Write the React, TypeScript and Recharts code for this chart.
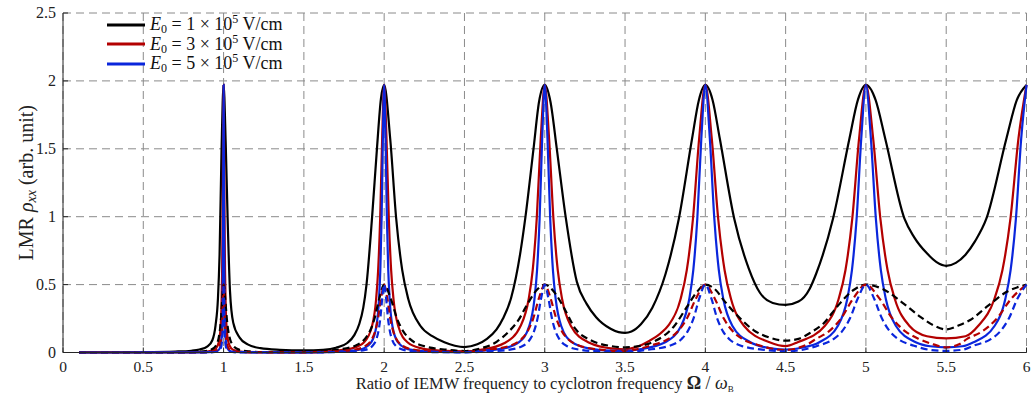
import { CartesianGrid, Label, Legend, Line, LineChart, XAxis, YAxis } from 'recharts';

const xTicks = [0, 0.5, 1, 1.5, 2, 2.5, 3, 3.5, 4, 4.5, 5, 5.5, 6];
const yTicks = [0, 0.5, 1, 1.5, 2, 2.5];
const fieldValues = ['1', '3', '5'];

// [ratio, rho], solid curves
const blackSolid = [
    [0.1, 0.001], [0.5, 0.003], [0.7, 0.007], [0.8, 0.013], [0.85, 0.022], [0.9, 0.045], [0.93, 0.09], [0.95, 0.2],
    [0.965, 0.4], [0.975, 0.72], [0.9875, 1.5], [1, 1.97], [1.013, 1.55], [1.026, 0.95], [1.04, 0.45], [1.06, 0.22],
    [1.1, 0.11], [1.15, 0.06], [1.23, 0.032], [1.35, 0.02], [1.5, 0.015], [1.62, 0.02], [1.7, 0.035], [1.77, 0.07],
    [1.815, 0.13], [1.845, 0.21], [1.87, 0.33], [1.89, 0.5], [1.925, 1.0], [1.955, 1.5], [1.98, 1.87], [2, 1.97],
    [2.0375, 1.576], [2.075, 0.985], [2.1125, 0.606], [2.15, 0.394], [2.225, 0.197], [2.3, 0.12], [2.375, 0.075],
    [2.44, 0.05], [2.5, 0.04], [2.58, 0.06], [2.64, 0.1], [2.7, 0.17], [2.74, 0.25], [2.79, 0.4], [2.82, 0.55],
    [2.85, 0.75], [2.88, 1.0], [2.93, 1.5], [2.965, 1.85], [3, 1.97], [3.035, 1.85], [3.075, 1.5], [3.13, 1.0],
    [3.2, 0.52], [3.26, 0.36], [3.32, 0.26], [3.41, 0.175], [3.46, 0.15], [3.5, 0.145], [3.54, 0.155], [3.6, 0.21],
    [3.67, 0.33], [3.7525, 0.58], [3.835, 0.985], [3.9175, 1.576], [3.96, 1.86], [4, 1.97], [4.045, 1.86],
    [4.09, 1.576], [4.18, 0.985], [4.27, 0.62], [4.34, 0.44], [4.42, 0.365], [4.5, 0.35], [4.58, 0.375],
    [4.65, 0.47], [4.69, 0.58], [4.795, 0.985], [4.8975, 1.576], [4.95, 1.86], [5, 1.97], [5.06, 1.86],
    [5.12, 1.576], [5.24, 0.985], [5.3, 0.85], [5.38, 0.73], [5.44, 0.665], [5.5, 0.638], [5.56, 0.66],
    [5.62, 0.72], [5.68, 0.82], [5.75, 0.985], [5.875, 1.576], [5.94, 1.86], [6, 1.97],
];

const redSolid = [
    [0.1, 0.0002], [0.5, 0.0005], [0.8, 0.0015], [0.88, 0.0049], [0.928, 0.0136], [0.952, 0.0303], [0.97, 0.0758],
    [0.982, 0.197], [0.988, 0.394], [0.991, 0.606], [0.994, 0.985], [0.997, 1.576], [1, 1.97], [1.003, 1.576],
    [1.006, 0.985], [1.009, 0.606], [1.012, 0.394], [1.018, 0.197], [1.03, 0.0758], [1.048, 0.0303], [1.072, 0.0136],
    [1.12, 0.0049], [1.3, 0.0025], [1.5, 0.002], [1.7, 0.0136], [1.8, 0.0303], [1.875, 0.0758], [1.925, 0.197],
    [1.95, 0.394], [1.9625, 0.606], [1.975, 0.985], [1.9875, 1.576], [2, 1.97], [2.0145, 1.576], [2.029, 0.985],
    [2.0435, 0.606], [2.058, 0.394], [2.087, 0.197], [2.145, 0.0758], [2.232, 0.0303], [2.348, 0.0136], [2.5, 0.008],
    [2.6, 0.02], [2.75, 0.07], [2.85, 0.197], [2.9, 0.394], [2.925, 0.606], [2.95, 0.985], [2.975, 1.576], [3, 1.97],
    [3.027, 1.576], [3.054, 0.985], [3.081, 0.606], [3.108, 0.394], [3.162, 0.197], [3.27, 0.0758], [3.43, 0.028],
    [3.5, 0.024], [3.57, 0.04], [3.65, 0.085], [3.72, 0.14], [3.769, 0.197], [3.846, 0.394], [3.8845, 0.606],
    [3.923, 0.985], [3.9615, 1.576], [4, 1.97], [4.04, 1.576], [4.08, 0.985], [4.12, 0.606], [4.16, 0.394],
    [4.24, 0.197], [4.4, 0.0758], [4.5, 0.047], [4.575, 0.0758], [4.745, 0.197], [4.83, 0.394], [4.8725, 0.606],
    [4.915, 0.985], [4.9575, 1.576], [5, 1.97], [5.045, 1.576], [5.09, 0.985], [5.135, 0.606], [5.18, 0.394],
    [5.27, 0.197], [5.38, 0.12], [5.5, 0.104], [5.62, 0.12], [5.7, 0.197], [5.8, 0.394], [5.85, 0.606], [5.9, 0.985],
    [5.95, 1.576], [6, 1.97],
];

const blueSolid = [
    [0.1, 0.0001], [0.5, 0.0003], [0.8, 0.0008], [0.94, 0.0049], [0.964, 0.0136], [0.976, 0.0303], [0.985, 0.0758],
    [0.991, 0.197], [0.994, 0.394], [0.9955, 0.606], [0.997, 0.985], [0.9985, 1.576], [1, 1.97], [1.0015, 1.576],
    [1.003, 0.985], [1.0045, 0.606], [1.006, 0.394], [1.009, 0.197], [1.015, 0.0758], [1.024, 0.0303],
    [1.036, 0.0136], [1.06, 0.0049], [1.2, 0.0015], [1.5, 0.001], [1.68, 0.0049], [1.808, 0.0136], [1.872, 0.0303],
    [1.92, 0.0758], [1.952, 0.197], [1.968, 0.394], [1.976, 0.606], [1.984, 0.985], [1.992, 1.576], [2, 1.97],
    [2.0085, 1.576], [2.017, 0.985], [2.0255, 0.606], [2.034, 0.394], [2.051, 0.197], [2.085, 0.0758],
    [2.136, 0.0303], [2.204, 0.0136], [2.34, 0.0049], [2.5, 0.003], [2.616, 0.0136], [2.744, 0.0303], [2.84, 0.0758],
    [2.904, 0.197], [2.936, 0.394], [2.952, 0.606], [2.968, 0.985], [2.984, 1.576], [3, 1.97], [3.017, 1.576],
    [3.034, 0.985], [3.051, 0.606], [3.068, 0.394], [3.102, 0.197], [3.17, 0.0758], [3.272, 0.0303], [3.408, 0.0136],
    [3.5, 0.012], [3.6, 0.026], [3.75, 0.0758], [3.85, 0.197], [3.9, 0.394], [3.925, 0.606], [3.95, 0.985],
    [3.975, 1.576], [4, 1.97], [4.028, 1.576], [4.056, 0.985], [4.084, 0.606], [4.112, 0.394], [4.168, 0.197],
    [4.28, 0.0758], [4.42, 0.028], [4.5, 0.021], [4.6, 0.035], [4.71, 0.0758], [4.826, 0.197], [4.884, 0.394],
    [4.913, 0.606], [4.942, 0.985], [4.971, 1.576], [5, 1.97], [5.031, 1.576], [5.062, 0.985], [5.093, 0.606],
    [5.124, 0.394], [5.186, 0.197], [5.31, 0.0758], [5.4, 0.046], [5.5, 0.038], [5.6, 0.046], [5.67, 0.0758],
    [5.802, 0.197], [5.868, 0.394], [5.901, 0.606], [5.934, 0.985], [5.967, 1.576], [6, 1.97],
];

// dashed curves
const blackDashed = [
    [0.1, 0.0001], [0.4, 0.0004], [0.68, 0.00125], [0.808, 0.0035], [0.872, 0.0077], [0.92, 0.0192], [0.952, 0.05],
    [0.968, 0.1], [0.976, 0.154], [0.984, 0.25], [0.992, 0.4], [1, 0.5], [1.01, 0.4], [1.02, 0.25], [1.03, 0.154],
    [1.04, 0.1], [1.06, 0.05], [1.1, 0.0192], [1.16, 0.0077], [1.24, 0.0035], [1.5, 0.002], [1.6, 0.008],
    [1.7, 0.0192], [1.82, 0.05], [1.88, 0.1], [1.91, 0.154], [1.94, 0.25], [1.97, 0.4], [2, 0.5], [2.04, 0.4],
    [2.08, 0.25], [2.12, 0.154], [2.16, 0.1], [2.24, 0.05], [2.4, 0.0192], [2.5, 0.011], [2.6, 0.03], [2.702, 0.08],
    [2.775, 0.153], [2.837, 0.24], [2.889, 0.35], [2.95, 0.46], [3, 0.5], [3.065, 0.435], [3.128, 0.31],
    [3.19, 0.175], [3.284, 0.092], [3.4, 0.05], [3.5, 0.038], [3.6, 0.05], [3.679, 0.08], [3.803, 0.19],
    [3.886, 0.337], [3.95, 0.45], [4, 0.5], [4.065, 0.46], [4.114, 0.386], [4.218, 0.25], [4.3, 0.165], [4.4, 0.11],
    [4.5, 0.087], [4.58, 0.1], [4.66, 0.15], [4.736, 0.214], [4.82, 0.337], [4.923, 0.46], [5, 0.5], [5.1, 0.47],
    [5.235, 0.36], [5.339, 0.263], [5.42, 0.2], [5.5, 0.17], [5.58, 0.2], [5.649, 0.239], [5.753, 0.337],
    [5.877, 0.447], [6, 0.5],
];

const redDashed = [
    [0.1, 0.0001], [0.5, 0.0002], [0.84, 0.00125], [0.904, 0.0035], [0.936, 0.0077], [0.96, 0.0192], [0.976, 0.05],
    [0.984, 0.1], [0.988, 0.154], [0.992, 0.25], [0.996, 0.4], [1, 0.5], [1.004, 0.4], [1.008, 0.25], [1.012, 0.154],
    [1.016, 0.1], [1.024, 0.05], [1.04, 0.0192], [1.064, 0.0077], [1.096, 0.0035], [1.16, 0.00125], [1.5, 0.001],
    [1.696, 0.0077], [1.81, 0.0192], [1.886, 0.05], [1.924, 0.1], [1.943, 0.154], [1.962, 0.25], [1.981, 0.4],
    [2, 0.5], [2.019, 0.4], [2.038, 0.25], [2.057, 0.154], [2.076, 0.1], [2.114, 0.05], [2.19, 0.0192],
    [2.304, 0.0077], [2.5, 0.004], [2.64, 0.0192], [2.784, 0.05], [2.856, 0.1], [2.892, 0.154], [2.928, 0.25],
    [2.964, 0.4], [3, 0.5], [3.036, 0.4], [3.072, 0.25], [3.108, 0.154], [3.144, 0.1], [3.216, 0.05], [3.36, 0.0192],
    [3.5, 0.01], [3.58, 0.025], [3.655, 0.05], [3.77, 0.1], [3.8275, 0.154], [3.885, 0.25], [3.9425, 0.4], [4, 0.5],
    [4.0575, 0.4], [4.115, 0.25], [4.1725, 0.154], [4.23, 0.1], [4.345, 0.05], [4.43, 0.025], [4.5, 0.018],
    [4.58, 0.035], [4.65, 0.07], [4.69, 0.1], [4.7675, 0.154], [4.845, 0.25], [4.9225, 0.4], [5, 0.5], [5.0825, 0.4],
    [5.165, 0.25], [5.2475, 0.154], [5.33, 0.1], [5.42, 0.06], [5.5, 0.038], [5.58, 0.06], [5.63, 0.1],
    [5.7225, 0.154], [5.815, 0.25], [5.9075, 0.4], [6, 0.5],
];

const blueDashed = [
    [0.1, 0.0001], [0.5, 0.0002], [0.91, 0.00125], [0.946, 0.0035], [0.964, 0.0077], [0.9775, 0.0192],
    [0.9865, 0.05], [0.991, 0.1], [0.9933, 0.154], [0.9955, 0.25], [0.9978, 0.4], [1, 0.5], [1.0022, 0.4],
    [1.0045, 0.25], [1.0067, 0.154], [1.009, 0.1], [1.0135, 0.05], [1.0225, 0.0192], [1.036, 0.0077], [1.054, 0.0035],
    [1.09, 0.00125], [1.5, 0.0005], [1.712, 0.0035], [1.808, 0.0077], [1.88, 0.0192], [1.928, 0.05], [1.952, 0.1],
    [1.964, 0.154], [1.976, 0.25], [1.988, 0.4], [2, 0.5], [2.012, 0.4], [2.024, 0.25], [2.036, 0.154], [2.048, 0.1],
    [2.072, 0.05], [2.12, 0.0192], [2.192, 0.0077], [2.288, 0.0035], [2.5, 0.0015], [2.64, 0.0077], [2.775, 0.0192],
    [2.865, 0.05], [2.91, 0.1], [2.9325, 0.154], [2.955, 0.25], [2.9775, 0.4], [3, 0.5], [3.0225, 0.4], [3.045, 0.25],
    [3.0675, 0.154], [3.09, 0.1], [3.135, 0.05], [3.225, 0.0192], [3.36, 0.0077], [3.5, 0.004], [3.63, 0.0192],
    [3.778, 0.05], [3.852, 0.1], [3.889, 0.154], [3.926, 0.25], [3.963, 0.4], [4, 0.5], [4.037, 0.4], [4.074, 0.25],
    [4.111, 0.154], [4.148, 0.1], [4.222, 0.05], [4.37, 0.0192], [4.5, 0.008], [4.6, 0.0192], [4.7, 0.05],
    [4.8, 0.1], [4.85, 0.154], [4.9, 0.25], [4.95, 0.4], [5, 0.5], [5.05, 0.4], [5.1, 0.25], [5.15, 0.154],
    [5.2, 0.1], [5.3, 0.05], [5.4, 0.0192], [5.5, 0.012], [5.6, 0.02], [5.67, 0.05], [5.78, 0.1], [5.835, 0.154],
    [5.89, 0.25], [5.945, 0.4], [6, 0.5],
];

const FONT = '"Liberation Serif", "Times New Roman", serif';
const AXIS = '#262626';
const colors = ['#000000', '#b30000', '#0a26dc'];

const toPoints = (pts: number[][]) => pts.map(([x, y]) => ({ x, y }));

const BottomTick = ({ x, y, payload }: any) => (
    <g>
        <line x1={x} y1={y} x2={x} y2={y - 5} stroke={AXIS} />
        <text x={x} y={y + 19} textAnchor="middle" fontSize={15.5} fontFamily={FONT} fill="#222">
            {payload.value}
        </text>
    </g>
);

const LeftTick = ({ x, y, payload }: any) => (
    <g>
        <line x1={x} y1={y} x2={x + 5} y2={y} stroke={AXIS} />
        <text x={x - 7} y={y + 5} textAnchor="end" fontSize={16} fontFamily={FONT} fill="#222">
            {payload.value}
        </text>
    </g>
);

const TopTick = ({ x, y }: any) => <line x1={x} y1={y} x2={x} y2={y + 5} stroke={AXIS} />;
const RightTick = ({ x, y }: any) => <line x1={x} y1={y} x2={x - 5} y2={y} stroke={AXIS} />;

const YTitle = ({ viewBox }: any) => {
    const cx = viewBox.x + 26;
    const cy = viewBox.y + viewBox.height / 2;
    return (
        <text x={cx} y={cy} transform={`rotate(-90 ${cx} ${cy})`} textAnchor="middle" dominantBaseline="central"
            fontSize={20} fontFamily={FONT} fill="#222">
            LMR{' '}
            <tspan fontStyle="italic">ρ</tspan>
            <tspan fontStyle="italic" fontSize={14} dy={5}>xx</tspan>
            <tspan dy={-5}> (arb. unit)</tspan>
        </text>
    );
};

const XTitle = ({ viewBox }: any) => {
    const cx = viewBox.x + viewBox.width / 2;
    const cy = viewBox.y + 36;
    return (
        <text x={cx} y={cy} textAnchor="middle" fontSize={16.5} fontFamily={FONT} fill="#222">
            Ratio of IEMW frequency to cyclotron frequency{' '}
            <tspan fontWeight="bold" fontSize={18}>Ω</tspan>
            <tspan fontSize={18}> / </tspan>
            <tspan fontStyle="italic" fontSize={18}>ω</tspan>
            <tspan fontSize={9} dy={3}>B</tspan>
        </text>
    );
};

const LegendBox = () => (
    <div style={{ fontFamily: FONT, fontSize: 18, color: '#111' }}>
        {fieldValues.map((v, i) => (
            <div key={v} style={{ display: 'flex', alignItems: 'center', height: 19.5, lineHeight: '19.5px' }}>
                <svg width={43} height={6}>
                    <line x1={0} y1={3} x2={38} y2={3} stroke={colors[i]} strokeWidth={3} />
                </svg>
                <span style={{ whiteSpace: 'nowrap' }}>
                    <i>E</i>
                    <sub style={{ fontSize: 12, verticalAlign: '-3px' }}>0</sub> = {v} × 10
                    <sup style={{ fontSize: 12, verticalAlign: '7px' }}>5</sup> V/cm
                </span>
            </div>
        ))}
    </div>
);

const LmrChart = () => {
    const solid = [blackSolid, redSolid, blueSolid];
    const dashed = [blackDashed, redDashed, blueDashed];

    return (
        <div style={{ position: 'absolute', left: 0, top: 0, width: 1033, height: 400, background: '#fff' }}>
            <LineChart width={1033} height={400} margin={{ top: 13, right: 6.5, left: 0, bottom: 0 }}>
                <CartesianGrid stroke="#8a8a8a" strokeDasharray="8 5" />
                <XAxis dataKey="x" type="number" domain={[0, 6]} ticks={xTicks} height={47.5} stroke={AXIS}
                    tickSize={0} tickMargin={0} tickLine={false} tick={<BottomTick />} interval={0}>
                    <Label content={<XTitle />} />
                </XAxis>
                <XAxis xAxisId="top" orientation="top" dataKey="x" type="number" domain={[0, 6]} ticks={xTicks}
                    height={0} stroke={AXIS} tickSize={0} tickMargin={0} tickLine={false} tick={<TopTick />} interval={0} />
                <YAxis type="number" domain={[0, 2.5]} ticks={yTicks} width={63} stroke={AXIS}
                    tickSize={0} tickMargin={0} tickLine={false} tick={<LeftTick />} interval={0}>
                    <Label content={<YTitle />} />
                </YAxis>
                <YAxis yAxisId="right" orientation="right" type="number" domain={[0, 2.5]} ticks={yTicks} width={0}
                    stroke={AXIS} tickSize={0} tickMargin={0} tickLine={false} tick={<RightTick />} interval={0} />
                <Legend verticalAlign="middle" align="center" layout="horizontal" content={() => <LegendBox />}
                    wrapperStyle={{ top: 15, left: 107, width: 'auto', height: 'auto' }} />
                {solid.map((pts, i) => (
                    <Line key={`s${i}`} data={toPoints(pts)} dataKey="y" type="monotone" stroke={colors[i]}
                        strokeWidth={2.2} dot={false} activeDot={false} isAnimationActive={false} legendType="none" />
                ))}
                {dashed.map((pts, i) => (
                    <Line key={`d${i}`} data={toPoints(pts)} dataKey="y" type="monotone" stroke={colors[i]}
                        strokeWidth={2.2} strokeDasharray="7 4" dot={false} activeDot={false}
                        isAnimationActive={false} legendType="none" />
                ))}
            </LineChart>
        </div>
    );
};

export default LmrChart;
